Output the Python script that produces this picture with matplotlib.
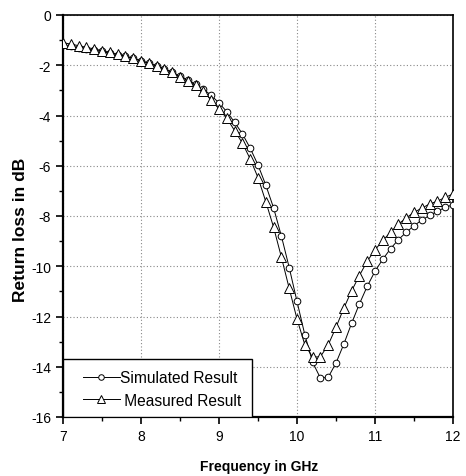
import matplotlib
matplotlib.use("Agg")
import matplotlib.pyplot as plt
from matplotlib.ticker import MultipleLocator
from matplotlib.patches import Rectangle

freq = [7.0, 7.1, 7.2, 7.3, 7.4, 7.5, 7.6, 7.7, 7.8, 7.9,
        8.0, 8.1, 8.2, 8.3, 8.4, 8.5, 8.6, 8.7, 8.8, 8.9,
        9.0, 9.1, 9.2, 9.3, 9.4, 9.5, 9.6, 9.7, 9.8, 9.9,
        10.0, 10.1, 10.2, 10.3, 10.4, 10.5, 10.6, 10.7, 10.8, 10.9,
        11.0, 11.1, 11.2, 11.3, 11.4, 11.5, 11.6, 11.7, 11.8, 11.9, 12.0]

simulated = [-1.2, -1.25, -1.3, -1.35, -1.4, -1.45, -1.52, -1.58, -1.65, -1.73,
             -1.82, -1.92, -2.03, -2.15, -2.28, -2.43, -2.58, -2.76, -2.95, -3.2,
             -3.5, -3.85, -4.27, -4.73, -5.3, -5.97, -6.77, -7.68, -8.8, -10.05,
             -11.4, -12.72, -13.82, -14.45, -14.42, -13.85, -13.1, -12.27, -11.5, -10.8,
             -10.2, -9.72, -9.3, -8.94, -8.65, -8.39, -8.16, -7.98, -7.81, -7.66, -7.55]

measured = [-1.1, -1.16, -1.22, -1.29, -1.35, -1.42, -1.49, -1.57, -1.64, -1.72,
            -1.82, -1.92, -2.02, -2.15, -2.28, -2.45, -2.61, -2.79, -3.03, -3.38,
            -3.74, -4.11, -4.6, -5.1, -5.73, -6.47, -7.43, -8.45, -9.64, -10.88,
            -12.1, -13.12, -13.62, -13.6, -13.13, -12.43, -11.67, -10.98, -10.37, -9.8,
            -9.35, -8.97, -8.65, -8.32, -8.08, -7.85, -7.69, -7.52, -7.41, -7.26, -7.12]

x_ticks = [7, 8, 9, 10, 11, 12]
y_ticks = [0, -2, -4, -6, -8, -10, -12, -14, -16]

plt.rcParams['font.family'] = ['Liberation Sans Narrow', 'Liberation Sans', 'DejaVu Sans']

fig = plt.figure(figsize=(4.66, 4.77), dpi=100)
ax = fig.add_axes([63/466, 1 - 418/477, (453-63)/466, (418-16)/477])

ax.plot(freq, simulated, color='black', lw=0.7, marker='o', ms=4.8,
        mfc='white', mec='black', mew=0.7, label='Simulated Result', zorder=3)
ax.plot(freq, measured, color='black', lw=0.7, marker='^', ms=6.5,
        mfc='white', mec='black', mew=0.7, label=' Measured Result', zorder=3)

ax.set_xlim(7, 12)
ax.set_ylim(-16, 0)
ax.set_xticks(x_ticks)
ax.set_yticks(y_ticks)
ax.set_xticklabels([str(t) for t in x_ticks])
ax.set_yticklabels([str(t) for t in y_ticks])
ax.xaxis.set_minor_locator(MultipleLocator(0.5))
ax.yaxis.set_minor_locator(MultipleLocator(1))
ax.tick_params(which='major', direction='out', length=5, width=1.2, labelsize=10,
               top=False, right=False)
ax.tick_params(which='minor', direction='out', length=3, width=1.0, top=False, right=False)
ax.grid(True, which='major', linestyle=(0, (1, 2)), color='#888888', lw=0.8)

for s in ['left', 'bottom']:
    ax.spines[s].set_linewidth(1.6)
for s in ['top', 'right']:
    ax.spines[s].set_linewidth(1.2)

ax.set_xlabel('Frequency in GHz', fontweight='bold', fontsize=10,
              family=['Liberation Sans', 'DejaVu Sans'])
ax.xaxis.set_label_coords(0.503, -0.105)
ax.set_ylabel('Return loss in dB', fontweight='bold', fontsize=12.5,
              family=['Liberation Sans', 'DejaVu Sans'])
ax.yaxis.set_label_coords(-0.09, 0.468)

leg = ax.legend(loc='upper left', bbox_to_anchor=((83 - 63) / 390, (418 - 371) / 402),
                frameon=False, fontsize=11.2, borderaxespad=0, borderpad=0,
                handlelength=2.35, handletextpad=0.0, labelspacing=0.5)
leg.set_zorder(5)
for h, s in zip(leg.legend_handles, [4.0, 5.5]):
    h.set_markersize(s)
frame = Rectangle((0, 0), (252 - 63) / 390, (418 - 360) / 402, transform=ax.transAxes,
                  facecolor='white', edgecolor='black', lw=1.0, zorder=4)
ax.add_patch(frame)

fig.savefig('out.png', dpi=100)
